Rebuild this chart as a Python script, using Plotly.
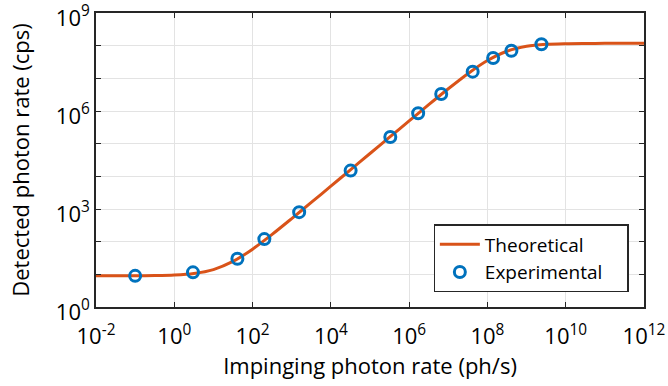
import plotly.graph_objects as go

# Theoretical curve (at half-decade steps)
theo_x = [1e-2, 3.16e-2, 1e-1, 3.16e-1, 1e0, 3.16e0, 1e1, 3.16e1, 1e2, 3.16e2, 1e3, 3.16e3,
          1e4, 3.16e4, 1e5, 3.16e5, 1e6, 3.16e6, 1e7, 3.16e7, 1e8, 3.16e8, 1e9, 3.16e9,
          1e10, 3.16e10, 1e11, 3.16e11, 1e12]
theo_y = [9.0, 9.02, 9.05, 9.16, 9.5, 10.6, 14, 24.8, 59, 167, 509, 1590,
          5.0e3, 1.58e4, 5.0e4, 1.58e5, 4.98e5, 1.56e6, 4.8e6, 1.39e7, 3.51e7, 6.76e7, 9.54e7, 1.10e8,
          1.153e8, 1.17e8, 1.177e8, 1.179e8, 1.18e8]

# Experimental points
exp_x = [0.1, 3.0, 41, 200, 1550, 3.2e4, 3.3e5, 1.7e6, 6.6e6, 4.2e7, 1.4e8, 4.1e8, 2.4e9]
exp_y = [9.0, 11.5, 30, 120, 800, 1.5e4, 1.6e5, 8.5e5, 3.3e6, 1.6e7, 4.2e7, 7.0e7, 1.1e8]

x_tickvals = [1e-2, 1e0, 1e2, 1e4, 1e6, 1e8, 1e10, 1e12]
x_ticktext = ["10<sup>-2</sup>", "10<sup>0</sup>", "10<sup>2</sup>", "10<sup>4</sup>",
              "10<sup>6</sup>", "10<sup>8</sup>", "10<sup>10</sup>", "10<sup>12</sup>"]
y_tickvals = [1e0, 1e1, 1e2, 1e3, 1e4, 1e5, 1e6, 1e7, 1e8, 1e9]
y_ticktext = ["10<sup>0</sup>", "", "", "10<sup>3</sup>", "", "", "10<sup>6</sup>", "", "", "10<sup>9</sup>"]

ORANGE = "#D95319"
BLUE = "#0072BD"
AX = "#262626"
FONT = "Open Sans"
PAD = "\u00a0" * 4  # legend right padding

fig = go.Figure()
fig.add_trace(go.Scatter(x=theo_x, y=theo_y, mode="lines", name="Theoretical",
                         line=dict(color=ORANGE, width=3, shape="spline", smoothing=0.8)))
fig.add_trace(go.Scatter(x=exp_x, y=exp_y, mode="markers", name="Experimental" + PAD,
                         marker=dict(symbol="circle-open", size=11, color=BLUE,
                                     line=dict(color=BLUE, width=3))))

axis_common = dict(type="log", showgrid=True, gridcolor="#E3E3E3", gridwidth=1,
                   showline=True, linecolor=AX, linewidth=1.5, mirror="allticks",
                   ticks="inside", ticklen=5, tickcolor=AX, tickwidth=1.2,
                   ticklabeloverflow="allow", automargin=False,
                   tickfont=dict(family=FONT, size=22, color="#000"), zeroline=False)

fig.update_xaxes(range=[-2, 12], tickmode="array", tickvals=x_tickvals, ticktext=x_ticktext,
                 ticklabelstandoff=9,
                 title=dict(text="Impinging photon rate (ph/s)", font=dict(family=FONT, size=22, color="#000"),
                            standoff=9),
                 **axis_common)
fig.update_yaxes(range=[0, 9], tickmode="array", tickvals=y_tickvals, ticktext=y_ticktext,
                 ticklabelshift=5,
                 title=dict(text="Detected photon rate (cps)", font=dict(family=FONT, size=22, color="#000"),
                            standoff=20),
                 **axis_common)

fig.update_layout(width=668, height=386, margin=dict(l=96, r=24, t=13, b=79, autoexpand=False),
                  paper_bgcolor="white", plot_bgcolor="white",
                  font=dict(family=FONT, size=22, color="#000"),
                  legend=dict(x=0.972, y=0.05, xanchor="right", yanchor="bottom",
                              bgcolor="white", bordercolor=AX, borderwidth=1.2,
                              font=dict(family=FONT, size=19, color="#000"),
                              itemwidth=40, tracegroupgap=0),
                  showlegend=True)

fig.write_html("out.html")
